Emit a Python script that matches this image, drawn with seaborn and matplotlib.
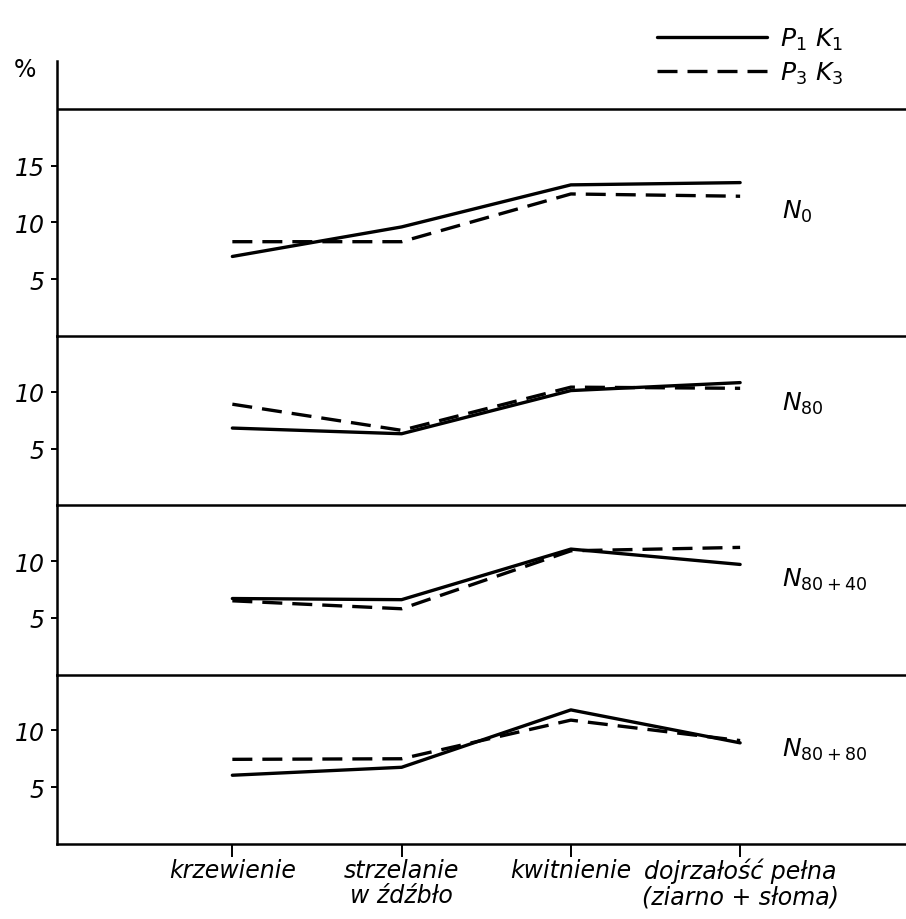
import matplotlib
matplotlib.use("Agg")
import matplotlib.pyplot as plt
from matplotlib.lines import Line2D
import seaborn as sns
import pandas as pd

# ---- data ----
stages = ["krzewienie", "strzelanie\nw źdźbło", "kwitnienie", "dojrzałość pełna\n(ziarno + słoma)"]
series_names = [r"$P_1\ K_1$", r"$P_3\ K_3$"]
panel_labels = [r"$N_0$", r"$N_{80}$", r"$N_{80+40}$", r"$N_{80+80}$"]

n0_p1k1 = [7.0, 9.6, 13.3, 13.5]
n0_p3k3 = [8.3, 8.3, 12.5, 12.3]
n80_p1k1 = [6.8, 6.3, 10.1, 10.8]
n80_p3k3 = [8.9, 6.6, 10.4, 10.3]
n8040_p1k1 = [6.7, 6.6, 11.05, 9.7]
n8040_p3k3 = [6.5, 5.8, 10.9, 11.2]
n8080_p1k1 = [6.05, 6.75, 11.8, 8.9]
n8080_p3k3 = [7.45, 7.5, 10.9, 9.1]

panels = [
    (n0_p1k1, n0_p3k3),
    (n80_p1k1, n80_p3k3),
    (n8040_p1k1, n8040_p3k3),
    (n8080_p1k1, n8080_p3k3),
]
yticks = [[5, 10, 15], [5, 10], [5, 10], [5, 10]]

sns.set_theme(style="white")
plt.rcParams["font.family"] = ["DejaVu Sans"]
plt.rcParams["mathtext.fontset"] = "dejavusans"
plt.rcParams["text.color"] = "black"
plt.rcParams["xtick.color"] = "black"
plt.rcParams["ytick.color"] = "black"

fig = plt.figure(figsize=(9.06, 9.2), dpi=100)
gs = fig.add_gridspec(4, 1, height_ratios=[24.2, 14.9, 14.9, 14.9], hspace=0,
                      left=57 / 906, right=1.0, top=1 - 62 / 920, bottom=1 - 845 / 920)

dash_style = (6, 3)
lw = 2.4
for i, ((s1, s3), lab) in enumerate(zip(panels, panel_labels)):
    ax = fig.add_subplot(gs[i])
    ax.patch.set_visible(False)
    df = pd.DataFrame({
        "stage": list(range(4)) * 2,
        "value": list(s1) + list(s3),
        "series": [series_names[0]] * 4 + [series_names[1]] * 4,
    })
    sns.lineplot(data=df, x="stage", y="value", style="series",
                 dashes={series_names[0]: "", series_names[1]: dash_style},
                 color="black", linewidth=lw, legend=False, ax=ax)
    ax.set_xlim(-1.036, 3.98)
    if i == 0:
        ax.set_ylim(0, 24.2)
        ax.axhline(20, color="black", linewidth=1.8)
    else:
        ax.set_ylim(0, 14.9)
    for sp in ["top", "right"]:
        ax.spines[sp].set_visible(False)
    for sp in ["left", "bottom"]:
        ax.spines[sp].set_color("black")
        ax.spines[sp].set_linewidth(1.8)
        ax.spines[sp].set_zorder(5)
    ax.set_yticks(yticks[i])
    ax.set_yticklabels([str(t) for t in yticks[i]], fontstyle="italic", fontsize=17)
    ax.tick_params(axis="y", direction="out", length=4, width=1.4, color="black", pad=5,
                   left=True, labelcolor="black")
    ax.set_xlabel("")
    ax.set_ylabel("")
    ax.set_xticks(range(4))
    if i < 3:
        ax.tick_params(axis="x", bottom=False, labelbottom=False)
    else:
        ax.set_xticklabels(stages, fontstyle="italic", fontsize=17, linespacing=1.05)
        ax.tick_params(axis="x", direction="out", length=9, width=1.4, color="black",
                       bottom=True, pad=1, labelcolor="black")
    ypos = 11.0 if i == 0 else (9.0 if i == 1 else 8.4)
    ax.text(3.25, ypos, lab, fontsize=18, ha="left", va="center", color="black")

fig.text(25 / 906, 1 - 70 / 920, "%", fontsize=17, ha="center", va="center",
         color="black")

handles = [Line2D([], [], color="black", linewidth=lw),
           Line2D([], [], color="black", linewidth=lw, dashes=dash_style)]
fig.legend(handles, series_names, loc="upper right", bbox_to_anchor=(0.955, 0.995),
           frameon=False, fontsize=18, handlelength=4.4, labelspacing=0.3,
           handletextpad=0.5, labelcolor="black")

fig.savefig("out.png", dpi=100)
